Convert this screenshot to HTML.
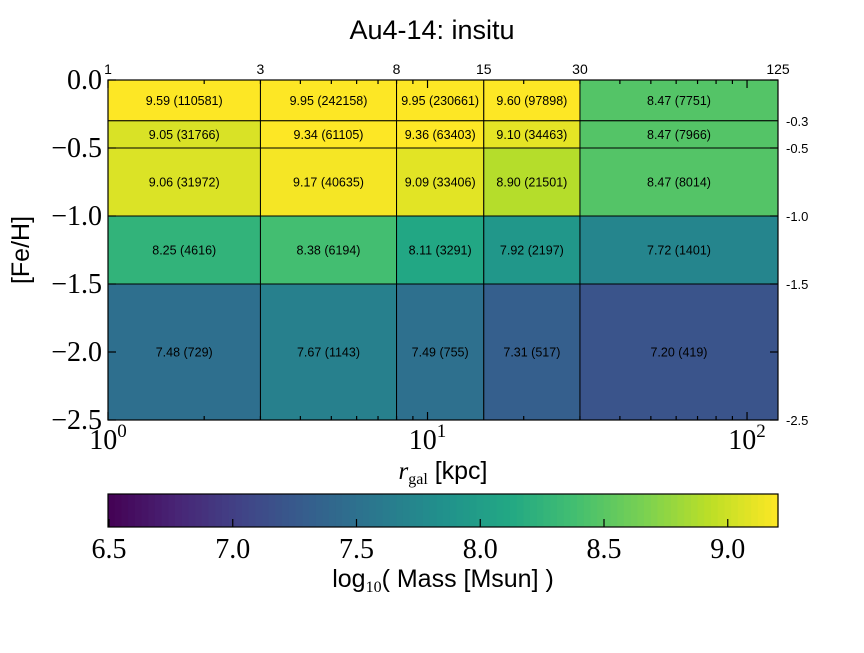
<!DOCTYPE html>
<html><head><meta charset="utf-8"><style>
body{margin:0;background:#fff;}
svg text{font-family:"Liberation Sans",sans-serif;}
.serif{font-family:"Liberation Serif",serif !important;}
</style></head><body>
<svg id="chart" width="864" height="648" viewBox="0 0 864 648" xmlns="http://www.w3.org/2000/svg">
<text x="432" y="39" text-anchor="middle" font-size="27">Au4-14: insitu</text>
<g id="cells"></g>
<g id="axes"></g>
</svg>
<script>
const xEdges=[1,3,8,15,30,125];
const yEdges=[0,-0.3,-0.5,-1.0,-1.5,-2.5];
const logMass=[
[9.59,9.95,9.95,9.60,8.47],
[9.05,9.34,9.36,9.10,8.47],
[9.06,9.17,9.09,8.90,8.47],
[8.25,8.38,8.11,7.92,7.72],
[7.48,7.67,7.49,7.31,7.20]];
const counts=[
[110581,242158,230661,97898,7751],
[31766,61105,63403,34463,7966],
[31972,40635,33406,21501,8014],
[4616,6194,3291,2197,1401],
[729,1143,755,517,419]];
const cbTicks=[6.5,7.0,7.5,8.0,8.5,9.0];
const yTicks=[0,-0.5,-1.0,-1.5,-2.0,-2.5];
const vmin=6.496,vmax=9.203;
const X0=108,X1=778,Y0=80,Y1=420;
const lx=v=>X0+(Math.log10(v)-0)/(Math.log10(125))*(X1-X0);
const ly=v=>Y0+(0-v)/2.5*(Y1-Y0);
const CB0=494,CB1=527;
const cx=v=>X0+(v-vmin)/(vmax-vmin)*(X1-X0);
const vir=["#440154","#482475","#414487","#355f8d","#2a788e","#21918c","#22a884","#44bf70","#7ad151","#bddf26","#fde725"];
function hex(h){return [1,3,5].map(i=>parseInt(h.substr(i,2),16));}
function cmap(t){t=Math.max(0,Math.min(1,t));const p=t*10,i=Math.min(9,Math.floor(p)),f=p-i;const a=hex(vir[i]),b=hex(vir[i+1]);return `rgb(${a.map((c,k)=>Math.round(c+(b[k]-c)*f)).join(',')})`;}
const NS="http://www.w3.org/2000/svg";
const cells=document.getElementById('cells'),axes=document.getElementById('axes');
function mk(tag,attrs,parent){const e=document.createElementNS(NS,tag);for(const k in attrs)e.setAttribute(k,attrs[k]);parent.appendChild(e);return e;}
for(let r=0;r<logMass.length;r++)for(let c=0;c<logMass[r].length;c++){
 const x=lx(xEdges[c]),x2=lx(xEdges[c+1]),y=ly(yEdges[r]),y2=ly(yEdges[r+1]);
 const rc=mk('rect',{x:x,y:y,width:x2-x,height:y2-y,fill:cmap((logMass[r][c]-vmin)/(vmax-vmin)),stroke:'#000','stroke-width':1},cells);
 
 
 const t=mk('text',{x:(x+x2)/2,y:(y+y2)/2+4.5,'text-anchor':'middle','font-size':12.5},cells);
 t.textContent=logMass[r][c].toFixed(2)+' ('+counts[r][c]+')';
 
 
}
const fr=mk('rect',{x:X0,y:Y0,width:X1-X0,height:Y1-Y0,fill:'none',stroke:'#000','stroke-width':1.2},axes);


for(let d=0;d<=2;d++)for(let m=1;m<10;m++){const v=m*Math.pow(10,d);if(v>125)continue;const X=lx(v),L=m===1?8:4;
 mk('line',{x1:X,x2:X,y1:Y1,y2:Y1-L,stroke:'#000','stroke-width':1.2},axes);
 mk('line',{x1:X,x2:X,y1:Y0,y2:Y0+L,stroke:'#000','stroke-width':1.2},axes);
 if(m===1){const t=mk('text',{x:X,y:Y1+29,'text-anchor':'middle','font-size':28,class:'serif'},axes);t.innerHTML='10<tspan dy="-12" font-size="19">'+d+'</tspan>';
  
  }
}
xEdges.forEach(v=>{const t=mk('text',{x:lx(v),y:Y0-6,'text-anchor':'middle','font-size':14},axes);t.textContent=v;
 
 });
yTicks.forEach(v=>{const Y=ly(v);mk('line',{x1:X0,x2:X0+8,y1:Y,y2:Y,stroke:'#000','stroke-width':1.2},axes);
 mk('line',{x1:X1,x2:X1-8,y1:Y,y2:Y,stroke:'#000','stroke-width':1.2},axes);
 const t=mk('text',{x:X0-6,y:Y+9,'text-anchor':'end','font-size':28,class:'serif'},axes);t.textContent=(v<0?'\u2212':'')+Math.abs(v).toFixed(1);
 
 });
yEdges.slice(1).forEach(v=>{const t=mk('text',{x:X1+8,y:ly(v)+5,'font-size':13},axes);t.textContent=v.toFixed(1);
 
 });
const yl=mk('text',{x:29,y:250,'text-anchor':'middle','font-size':25,transform:'rotate(-90 29 250)'},axes);yl.textContent='[Fe/H]';


const xl=mk('text',{x:443,y:479,'text-anchor':'middle','font-size':25},axes);xl.innerHTML='<tspan class="serif" font-style="italic">r</tspan><tspan class="serif" font-size="16" dy="5">gal</tspan><tspan dy="-5"> [kpc]</tspan>';


const N=100;
for(let i=0;i<N;i++){const x=X0+i*(X1-X0)/N;mk('rect',{x:x,y:CB0,width:(X1-X0)/N+0.6,height:CB1-CB0,fill:cmap((i+0.5)/N)},axes);}
const cb=mk('rect',{x:X0,y:CB0,width:X1-X0,height:CB1-CB0,fill:'none',stroke:'#000','stroke-width':1.2},axes);


cbTicks.forEach(v=>{const X=cx(v);mk('line',{x1:X,x2:X,y1:CB1,y2:CB1-8,stroke:'#000','stroke-width':1.2},axes);
 const t=mk('text',{x:X,y:CB1+31,'text-anchor':'middle','font-size':28,class:'serif'},axes);t.textContent=v.toFixed(1);
 
 });
const cl=mk('text',{x:443,y:587,'text-anchor':'middle','font-size':25},axes);cl.innerHTML='log<tspan class="serif" font-size="16" dy="5">10</tspan><tspan dy="-5">( Mass [Msun] )</tspan>';


</script>
</body></html>
